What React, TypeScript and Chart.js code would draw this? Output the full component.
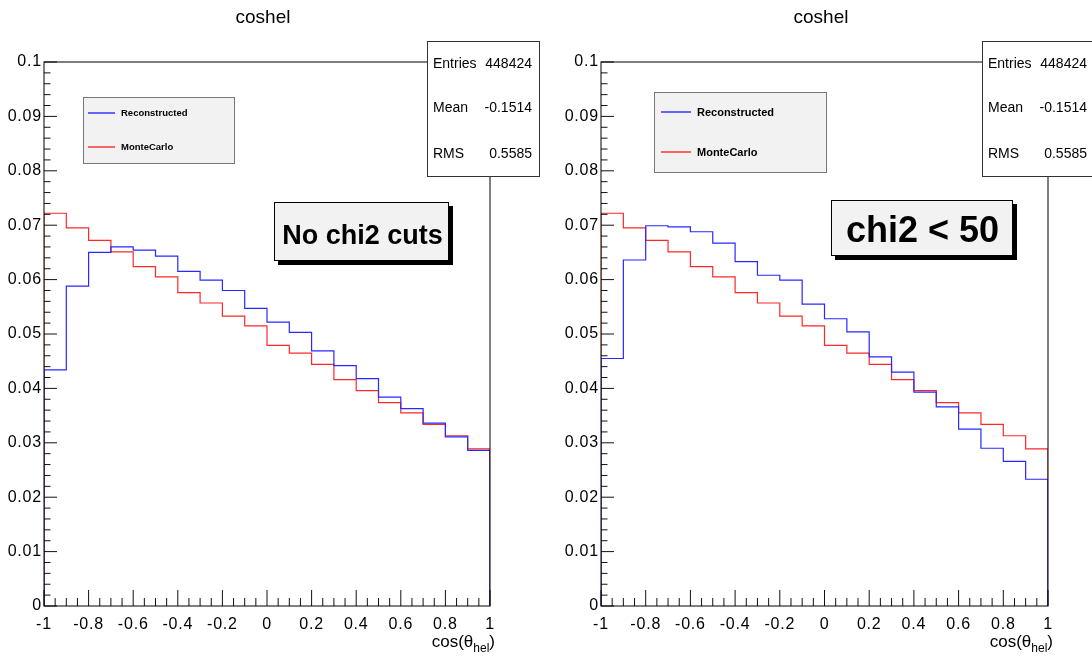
import React, { useEffect, useRef } from "react";
import { Chart, registerables } from "chart.js";

Chart.register(...registerables);

// cos(theta_hel) histogram: 20 bins on [-1, 1]
const binLowEdges = [-1, -0.9, -0.8, -0.7, -0.6, -0.5, -0.4, -0.3, -0.2, -0.1, 0, 0.1, 0.2, 0.3, 0.4, 0.5, 0.6, 0.7, 0.8, 0.9];
const binUpperEdge = 1;

const monteCarlo = [0.0722, 0.0695, 0.0672, 0.0651, 0.0624, 0.0605, 0.0576, 0.0557, 0.0533, 0.0515, 0.0479, 0.0465, 0.0444, 0.0416, 0.0396, 0.0374, 0.0355, 0.0334, 0.0313, 0.0289];
const reconstructedNoCut = [0.0434, 0.0588, 0.065, 0.066, 0.0654, 0.0643, 0.0615, 0.0599, 0.058, 0.0547, 0.0522, 0.0503, 0.0469, 0.0442, 0.0418, 0.0384, 0.0363, 0.0336, 0.0311, 0.0286];
const reconstructedChi2Cut = [0.0455, 0.0636, 0.0699, 0.0697, 0.0688, 0.0667, 0.0633, 0.0608, 0.0599, 0.0555, 0.0528, 0.0504, 0.0458, 0.043, 0.0393, 0.0366, 0.0325, 0.029, 0.0266, 0.0233];

const yTickValues = [0, 0.01, 0.02, 0.03, 0.04, 0.05, 0.06, 0.07, 0.08, 0.09, 0.1];
const yTickLabels = ["0", "0.01", "0.02", "0.03", "0.04", "0.05", "0.06", "0.07", "0.08", "0.09", "0.1"];
const xTickValues = [-1, -0.8, -0.6, -0.4, -0.2, 0, 0.2, 0.4, 0.6, 0.8, 1];
const xTickLabels = ["-1", "-0.8", "-0.6", "-0.4", "-0.2", "0", "0.2", "0.4", "0.6", "0.8", "1"];

const statNames = ["Entries", "Mean", "RMS"];
const statValues = ["448424", "-0.1514", "0.5585"];
const seriesNames = ["Reconstructed", "MonteCarlo"];
const histTitle = "coshel";
const panelLabels = ["No chi2 cuts", "chi2 < 50"];

const BLUE = "rgb(40,40,255)";
const RED = "rgb(255,40,40)";
const FONT = "'Liberation Sans', Arial, Helvetica, sans-serif";

type PanelLayout = {
  left: number;
  padding: { left: number; right: number; top: number; bottom: number };
  titleX: number;
  stats: { x: number; y: number; w: number; h: number; rows: number[] };
  legend: { x: number; y: number; w: number; h: number; lineX0: number; lineX1: number; textX: number; rows: number[]; font: number };
  label: { text: string; x: number; y: number; w: number; h: number; font: number; cx: number; baseline: number };
};

const PANEL_W = 546;
const PANEL_H = 657;

const panels: { reco: number[]; layout: PanelLayout }[] = [
  {
    reco: reconstructedNoCut,
    layout: {
      left: 0,
      padding: { left: 44, right: 56, top: 62, bottom: 51 },
      titleX: 263,
      stats: { x: 427, y: 41, w: 112, h: 135, rows: [64, 108.5, 154] },
      legend: { x: 83, y: 97, w: 151, h: 66, lineX0: 88, lineX1: 115, textX: 121, rows: [113, 147], font: 9.5 },
      label: { text: panelLabels[0], x: 274, y: 202, w: 175, h: 59, font: 27, cx: 362.5, baseline: 243.5 },
    },
  },
  {
    reco: reconstructedChi2Cut,
    layout: {
      left: 546,
      padding: { left: 55, right: 44, top: 62, bottom: 51 },
      titleX: 275,
      stats: { x: 436, y: 41, w: 112, h: 135, rows: [64, 108.5, 154] },
      legend: { x: 108, y: 92, w: 172, h: 80, lineX0: 115, lineX1: 145, textX: 151, rows: [112, 152], font: 11 },
      label: { text: panelLabels[1], x: 285, y: 200, w: 182, h: 56, font: 36, cx: 376.5, baseline: 241.7 },
    },
  },
];

// Outline of a filled-bin histogram: rise at the low edge, step across each bin, drop at the high edge.
function histPoints(values: number[]) {
  const pts: { x: number; y: number }[] = [{ x: binLowEdges[0], y: 0 }];
  values.forEach((v, i) => pts.push({ x: binLowEdges[i], y: v }));
  pts.push({ x: binUpperEdge, y: values[values.length - 1] });
  pts.push({ x: binUpperEdge, y: 0 });
  return pts;
}

function spaced(ctx: CanvasRenderingContext2D, spacing: string) {
  (ctx as any).letterSpacing = spacing;
}

function makePadPlugin(layout: PanelLayout) {
  return {
    id: "rootPad",
    beforeDraw(chart: Chart) {
      const { ctx, width, height } = chart;
      ctx.save();
      ctx.fillStyle = "#ffffff";
      ctx.fillRect(0, 0, width, height);
      ctx.restore();
    },
    afterDatasetsDraw(chart: Chart) {
      const { ctx, chartArea: a } = chart;
      const x = chart.scales.x;
      const y = chart.scales.y;
      ctx.save();

      // axis ticks pointing into the frame
      ctx.strokeStyle = "#111";
      ctx.lineWidth = 1;
      ctx.beginPath();
      for (let k = 0; k <= 50; k++) {
        const py = y.getPixelForValue(k * 0.002);
        const len = k % 5 === 0 ? 13 : 6.5;
        ctx.moveTo(a.left, py);
        ctx.lineTo(a.left + len, py);
      }
      for (let k = 0; k <= 40; k++) {
        const px = x.getPixelForValue(-1 + k * 0.05);
        const len = k % 4 === 0 ? 16 : 8;
        ctx.moveTo(px, a.bottom);
        ctx.lineTo(px, a.bottom - len);
      }
      ctx.stroke();

      // frame
      ctx.strokeStyle = "#000";
      ctx.strokeRect(a.left, a.top, a.right - a.left, a.bottom - a.top);

      // tick labels
      ctx.fillStyle = "#000";
      ctx.font = `16px ${FONT}`;
      spaced(ctx, "0.8px");
      ctx.textAlign = "right";
      ctx.textBaseline = "middle";
      yTickValues.forEach((v, i) => ctx.fillText(yTickLabels[i], a.left - 2, y.getPixelForValue(v)));
      ctx.textAlign = "center";
      ctx.textBaseline = "alphabetic";
      xTickValues.forEach((v, i) => ctx.fillText(xTickLabels[i], x.getPixelForValue(v), a.bottom + 23));
      spaced(ctx, "0px");

      // axis title cos(theta_hel), right-aligned at the frame edge
      ctx.textAlign = "left";
      ctx.font = `17px ${FONT}`;
      const main = "cos(\u03b8";
      const wMain = ctx.measureText(main).width;
      ctx.font = `12px ${FONT}`;
      const sub = "hel";
      const wSub = ctx.measureText(sub).width;
      ctx.font = `17px ${FONT}`;
      const wClose = ctx.measureText(")").width;
      const x0 = a.right + 5 - (wMain + wSub + wClose);
      const base = 647;
      ctx.fillText(main, x0, base);
      ctx.font = `12px ${FONT}`;
      ctx.fillText(sub, x0 + wMain, base + 5);
      ctx.font = `17px ${FONT}`;
      ctx.fillText(")", x0 + wMain + wSub, base);

      // title
      ctx.font = `19px ${FONT}`;
      ctx.textAlign = "center";
      ctx.textBaseline = "middle";
      ctx.fillText(histTitle, layout.titleX, 18);

      // statistics box
      const s = layout.stats;
      ctx.fillStyle = "#fff";
      ctx.fillRect(s.x, s.y, s.w, s.h);
      ctx.strokeStyle = "#333";
      ctx.strokeRect(s.x + 0.5, s.y + 0.5, s.w, s.h);
      ctx.fillStyle = "#000";
      ctx.font = `14px ${FONT}`;
      statNames.forEach((n, i) => {
        ctx.textAlign = "left";
        ctx.fillText(n, s.x + 6, s.rows[i]);
        ctx.textAlign = "right";
        ctx.fillText(statValues[i], s.x + s.w - 7, s.rows[i]);
      });

      // legend
      const l = layout.legend;
      ctx.fillStyle = "#f2f2f2";
      ctx.fillRect(l.x, l.y, l.w, l.h);
      ctx.strokeStyle = "#777";
      ctx.strokeRect(l.x + 0.5, l.y + 0.5, l.w, l.h);
      const swatches = [BLUE, RED];
      for (let i = 0; i < seriesNames.length; i++) {
        ctx.strokeStyle = swatches[i];
        ctx.lineWidth = 1.4;
        ctx.beginPath();
        ctx.moveTo(l.lineX0, l.rows[i]);
        ctx.lineTo(l.lineX1, l.rows[i]);
        ctx.stroke();
        ctx.fillStyle = "#000";
        ctx.font = `bold ${l.font}px ${FONT}`;
        ctx.textAlign = "left";
        ctx.textBaseline = "middle";
        ctx.fillText(seriesNames[i], l.textX, l.rows[i] + 0.5);
      }

      // cut label with drop shadow
      const p = layout.label;
      ctx.fillStyle = "#000";
      ctx.fillRect(p.x + 4, p.y + 4, p.w, p.h);
      ctx.fillStyle = "#f2f2f2";
      ctx.fillRect(p.x, p.y, p.w, p.h);
      ctx.strokeStyle = "#000";
      ctx.lineWidth = 1;
      ctx.strokeRect(p.x + 0.5, p.y + 0.5, p.w - 1, p.h - 1);
      ctx.fillStyle = "#000";
      ctx.font = `bold ${p.font}px ${FONT}`;
      ctx.textAlign = "center";
      ctx.textBaseline = "alphabetic";
      ctx.fillText(p.text, p.cx, p.baseline);

      ctx.restore();
    },
  };
}

function Pad({ reco, layout }: { reco: number[]; layout: PanelLayout }) {
  const ref = useRef<HTMLCanvasElement | null>(null);
  useEffect(() => {
    if (!ref.current) return;
    const chart = new Chart(ref.current, {
      type: "line",
      data: {
        datasets: [
          {
            label: seriesNames[0],
            data: histPoints(reco),
            borderColor: BLUE,
            borderWidth: 1.2,
            stepped: "before",
            pointRadius: 0,
            fill: false,
          },
          {
            label: seriesNames[1],
            data: histPoints(monteCarlo),
            borderColor: RED,
            borderWidth: 1.2,
            stepped: "before",
            pointRadius: 0,
            fill: false,
          },
        ],
      },
      options: {
        responsive: false,
        animation: false,
        events: [],
        layout: { padding: layout.padding },
        scales: {
          x: { type: "linear", min: -1, max: 1, display: false },
          y: { type: "linear", min: 0, max: 0.1, display: false },
        },
        plugins: {
          legend: { display: false },
          title: { display: false },
          tooltip: { enabled: false },
        },
      },
      plugins: [makePadPlugin(layout)],
    } as any);
    return () => chart.destroy();
  }, [reco, layout]);
  return (
    <canvas
      ref={ref}
      width={PANEL_W}
      height={PANEL_H}
      style={{ position: "absolute", left: layout.left, top: 0, width: PANEL_W, height: PANEL_H, display: "block" }}
    />
  );
}

export default function App() {
  return (
    <div style={{ position: "absolute", left: 0, top: 0, width: 1092, height: 657, background: "#fff", overflow: "hidden" }}>
      {panels.map((p, i) => (
        <Pad key={i} reco={p.reco} layout={p.layout} />
      ))}
    </div>
  );
}
